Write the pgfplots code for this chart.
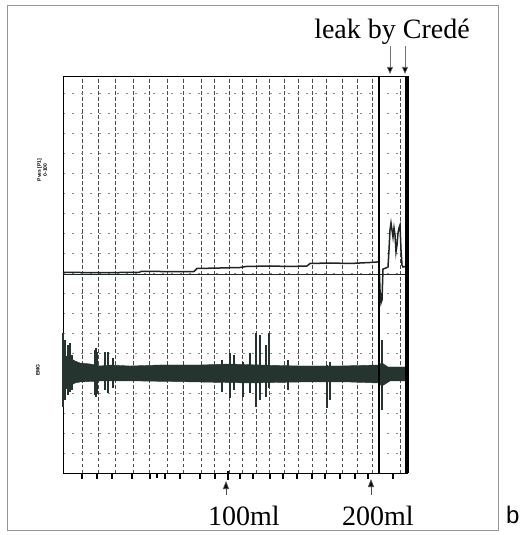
\documentclass[border=0pt]{standalone}
\usepackage{fontspec}
\setmainfont{Liberation Serif}
\newfontfamily\sansf{Liberation Sans}
\usepackage{pgfplots}
\pgfplotsset{compat=1.18}
\usetikzlibrary{arrows.meta}
\definecolor{trace}{RGB}{30,38,36}
\definecolor{emg}{RGB}{38,52,48}
\definecolor{frame}{RGB}{150,150,150}
\begin{document}
\begin{tikzpicture}
\begin{axis}[
  scale only axis,
  width=344pt, height=397pt,
  xmin=63, xmax=407, ymin=62, ymax=459,
  clip=false,
  axis line style={black, line width=0.8pt},
  xtick={82,98,115,133,149,167,183,201,214,229,242,256,269,284,298,312,326,342,357,372,400},
  ytick={82,102,122,142,162,182,202,222,242,262,282,302,322,342,362,382,402,422,442},
  xticklabels={}, yticklabels={},
  major tick length=0pt,
  xmajorgrids, ymajorgrids,
  x grid style={black!70, line width=0.7pt, dash pattern=on 3.5pt off 2.5pt},
  y grid style={black!45, line width=0.6pt, dash pattern=on 2pt off 7pt},
  unbounded coords=jump,
]
% page extent
\path (0,0) rectangle (521,535);
% outer frame
\draw[frame, line width=0.9pt] (7,5) rectangle (498,530);

% zero line of Pves
\addplot[trace, line width=0.9pt] coordinates {(63,261) (407,261)};
% Pves trace
\addplot[trace, line width=1.5pt] coordinates {
(63,262.5) (80,262.5) (100,262.3) (120,262.5) (139,262.5) (141,263.5) (160,263.5)
(180,263.3) (194,263.5) (197,266.5) (220,267) (240,267.5) (246,268.5) (270,269)
(290,268.5) (307,269) (310,271.5) (330,272) (350,271.5) (370,272.5) (377,273)
(379,273) (380,245) (381,232) (382,235) (383,266) (386,267) (388,268) (389,285)
(390,305) (391,312) (392,305) (393,298) (394,307) (395,300) (396,283) (397,290)
(398,302) (399,307) (400,310) (401,285) (402,270) (403,268) (407,269)};

% EMG band
\addplot[draw=emg, fill=emg, line width=0.4pt] coordinates {
(63,185) (66,179) (70,177) (75,174) (80,172) (90,171) (100,169) (110,170) (130,169)
(160,170) (200,170) (230,171) (260,170) (300,169) (340,169) (378,170) (382,172)
(388,168) (407,168)
(407,154) (390,154) (382,149) (378,152) (350,153) (300,153) (250,152) (200,153)
(140,154) (100,154) (80,153) (75,152) (70,149) (66,146) (63,142)};
% EMG spikes
\addplot[emg, line width=1.1pt] coordinates {
(63,202) (63,128) (64,nan)
(65,195) (65,135) (66,nan)
(68,190) (68,140) (69,nan)
(70,192) (70,143) (71,nan)
(72,180) (72,145) (73,nan)
(95,185) (95,140) (95.5,nan)
(96,187) (96,138) (96.5,nan)
(97,183) (97,141) (98,nan)
(105,183) (105,145) (106,nan)
(108,183) (108,142) (109,nan)
(113,177) (113,147) (114,nan)
(222,175) (222,143) (223,nan)
(230,182) (230,137) (231,nan)
(234,180) (234,145) (235,nan)
(243,173) (243,138) (244,nan)
(250,182) (250,142) (251,nan)
(256,202) (256,128) (257,nan)
(260,200) (260,135) (261,nan)
(266,190) (266,138) (267,nan)
(269,202) (269,147) (270,nan)
(288,175) (288,145) (289,nan)
(327,170) (327,127) (328,nan)
(330,173) (330,135) (331,nan)
(382,195) (382,125)};

% event lines
\addplot[black, line width=2pt] coordinates {(379,62) (379,459)};
\addplot[black, line width=3.5pt] coordinates {(407,62) (407,459)};

% bottom event marks
\addplot[black, line width=1.1pt] coordinates {
(82,62) (82,56) (83,nan) (97,62) (97,56) (98,nan) (112,62) (112,56) (113,nan)
(132,62) (132,56) (133,nan) (150,62) (150,56) (151,nan) (157,62) (157,57) (158,nan)
(165,62) (165,56) (166,nan) (180,62) (180,56) (181,nan) (200,62) (200,56) (201,nan)
(215,62) (215,56) (216,nan) (228,64) (228,55) (229,nan) (240,62) (240,56) (241,nan)
(253,62) (253,56) (254,nan) (270,62) (270,56) (271,nan) (283,62) (283,56) (284,nan)
(297,62) (297,56) (298,nan) (312,62) (312,56) (313,nan) (325,62) (325,56) (326,nan)
(340,62) (340,56) (341,nan) (355,62) (355,56) (356,nan) (368,62) (368,56) (369,nan)
(393,62) (393,56)};

% labels
\node[anchor=base, font=\fontsize{28}{30}\selectfont] at (392,496) {leak by Credé};
\draw[black!55, line width=0.6pt, -{Triangle[length=7pt,width=6pt,fill=black]}] (390,489) -- (390,461);
\draw[black!55, line width=0.6pt, -{Triangle[length=7pt,width=6pt,fill=black]}] (405,489) -- (405,461);

\draw[black!70, line width=0.8pt, -{Triangle[length=8pt,width=6pt,fill=black]}] (226,40) -- (226,54);
\draw[black!70, line width=0.8pt, -{Triangle[length=8pt,width=6pt,fill=black]}] (371,40) -- (371,56);
\node[anchor=base west, font=\fontsize{28}{30}\selectfont, inner sep=0pt] at (208,10) {100ml};
\node[anchor=base west, font=\fontsize{28}{30}\selectfont, inner sep=0pt] at (342,10) {200ml};
\node[anchor=base west, font=\sansf\fontsize{24}{26}\selectfont, inner sep=0pt] at (506,12) {b};

\node[rotate=90, font=\sansf\bfseries\fontsize{5}{6}\selectfont, align=center] at (42,365) {Pves [P1]\\0-100};
\node[rotate=90, font=\sansf\bfseries\fontsize{5}{6}\selectfont] at (38,165) {EMG};
\end{axis}
\end{tikzpicture}
\end{document}
